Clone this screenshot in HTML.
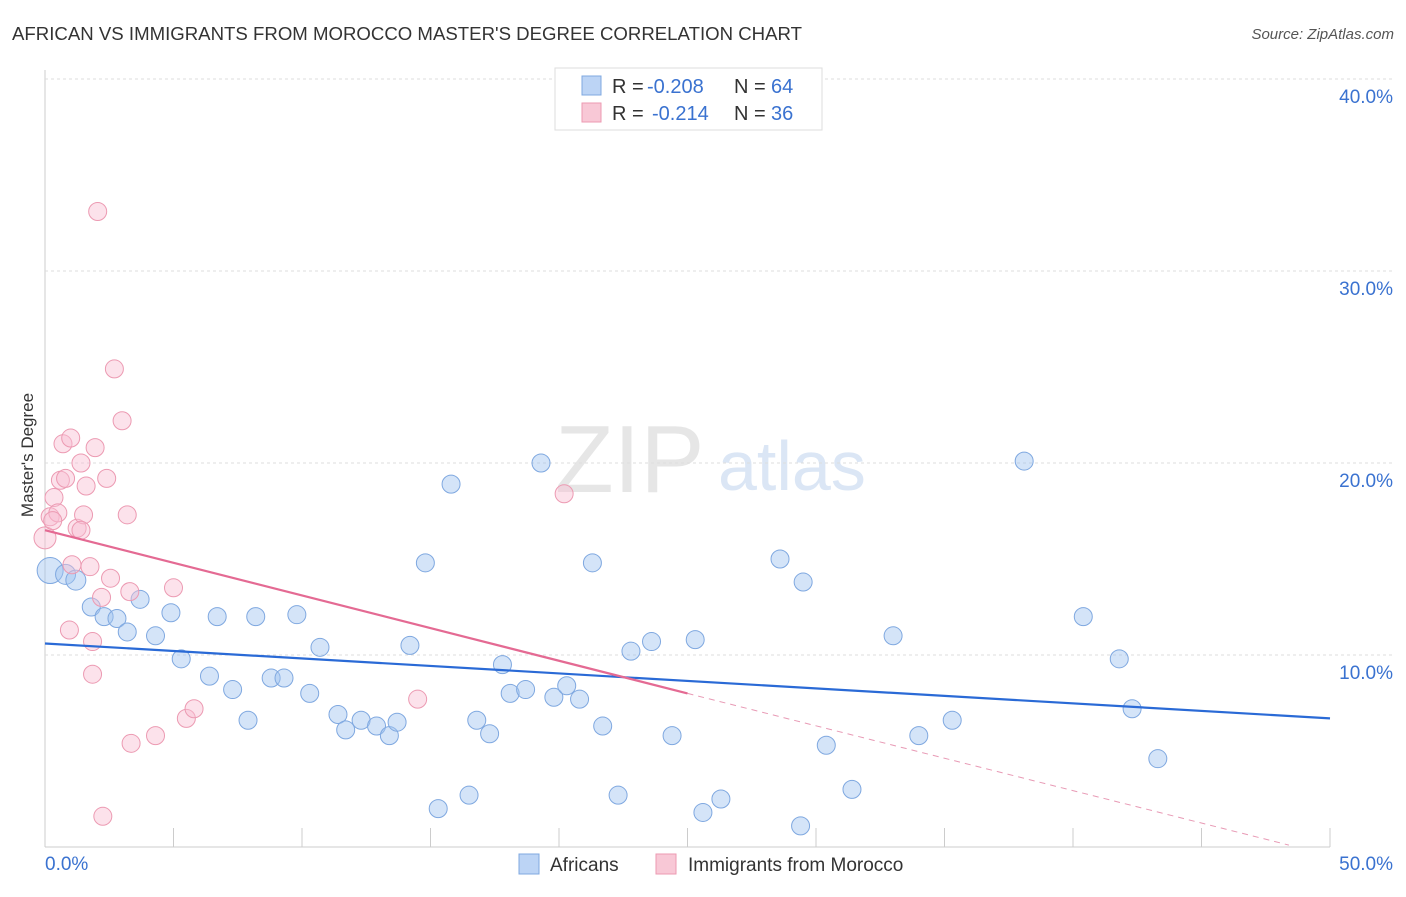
<!DOCTYPE html>
<html><head><meta charset="utf-8"><style>
body{margin:0;background:#fff;font-family:"Liberation Sans",sans-serif}
svg text{font-family:"Liberation Sans",sans-serif}
</style></head><body>
<svg id="c" width="1406" height="892">
<text x="12" y="40" font-size="18" fill="#333" textLength="790" lengthAdjust="spacingAndGlyphs">AFRICAN VS IMMIGRANTS FROM MOROCCO MASTER'S DEGREE CORRELATION CHART</text>
<text x="1394" y="39" font-size="15" fill="#555" text-anchor="end" font-style="italic">Source: ZipAtlas.com</text>
<text x="555" y="492" font-size="96" fill="#e6e6e6" font-family="Liberation Serif">ZIP</text>
<text x="718" y="490" font-size="70" fill="#dbe6f5">atlas</text>
<text transform="translate(33,455) rotate(-90)" font-size="17" fill="#333" text-anchor="middle">Master's Degree</text>
<g id="grid"></g><g id="pts"></g><g id="lines"></g>
<g>
<rect x="555" y="68" width="267" height="62" fill="#fff" stroke="#ddd"/>
<rect x="582" y="76" width="19" height="19" fill="#bcd4f5" stroke="#7fa8e0"/>
<rect x="582" y="103" width="19" height="19" fill="#f8c8d6" stroke="#ec9ab2"/>
<text x="612" y="93" font-size="20" fill="#333">R =</text>
<text x="647" y="93" font-size="20" fill="#3a72d0">-0.208</text>
<text x="734" y="93" font-size="20" fill="#333">N =</text>
<text x="771" y="93" font-size="20" fill="#3a72d0">64</text>
<text x="612" y="120" font-size="20" fill="#333">R =</text>
<text x="652" y="120" font-size="20" fill="#3a72d0">-0.214</text>
<text x="734" y="120" font-size="20" fill="#333">N =</text>
<text x="771" y="120" font-size="20" fill="#3a72d0">36</text>
</g>
<g>
<rect x="519" y="854" width="20" height="20" fill="#bcd4f5" stroke="#7fa8e0"/>
<text x="550" y="871" font-size="19" fill="#333">Africans</text>
<rect x="656" y="854" width="20" height="20" fill="#f8c8d6" stroke="#ec9ab2"/>
<text x="688" y="871" font-size="19" fill="#333">Immigrants from Morocco</text>
</g>
</svg>
<script>
const yTicks=[10,20,30,40];
const xTickLabels=["0.0%","50.0%"];
const blueX=[0.2,0.8,1.2,1.8,2.3,2.8,3.2,3.7,4.3,4.9,5.3,6.4,6.7,7.3,7.9,8.2,8.8,9.3,9.8,10.3,10.7,11.4,11.7,12.3,12.9,13.4,13.7,14.2,14.8,15.3,15.8,16.5,16.8,17.3,17.8,18.1,18.7,19.3,19.8,20.3,20.8,21.3,21.7,22.3,22.8,23.6,24.4,25.3,25.6,26.3,28.6,29.4,29.5,30.4,31.4,33.0,34.0,35.3,38.1,40.4,41.8,42.3,43.3];
const blueY=[14.4,14.2,13.9,12.5,12.0,11.9,11.2,12.9,11.0,12.2,9.8,8.9,12.0,8.2,6.6,12.0,8.8,8.8,12.1,8.0,10.4,6.9,6.1,6.6,6.3,5.8,6.5,10.5,14.8,2.0,18.9,2.7,6.6,5.9,9.5,8.0,8.2,20.0,7.8,8.4,7.7,14.8,6.3,2.7,10.2,10.7,5.8,10.8,1.8,2.5,15.0,1.1,13.8,5.3,3.0,11.0,5.8,6.6,20.1,12.0,9.8,7.2,4.6];
const blueR=[13,10,10,9,9,9,9,9,9,9,9,9,9,9,9,9,9,9,9,9,9,9,9,9,9,9,9,9,9,9,9,9,9,9,9,9,9,9,9,9,9,9,9,9,9,9,9,9,9,9,9,9,9,9,9,9,9,9,9,9,9,9,9];
const pinkX=[0.0,0.2,0.35,0.5,0.6,0.7,0.8,1.0,0.95,1.05,1.25,1.4,1.5,1.6,1.75,1.85,1.85,1.95,2.05,2.2,2.25,2.4,2.55,2.7,3.0,3.2,3.3,3.35,4.3,5.0,5.5,5.8,14.5,20.2,1.4,0.3];
const pinkY=[16.1,17.2,18.2,17.4,19.1,21.0,19.2,21.3,11.3,14.7,16.6,20.0,17.3,18.8,14.6,10.7,9.0,20.8,33.1,13.0,1.6,19.2,14.0,24.9,22.2,17.3,13.3,5.4,5.8,13.5,6.7,7.2,7.7,18.4,16.5,17.0];
const pinkR=[11,9,9,9,9,9,9,9,9,9,9,9,9,9,9,9,9,9,9,9,9,9,9,9,9,9,9,9,9,9,9,9,9,9,9,9];
const blueTrend=[[0,10.6],[50,6.7]];
const pinkTrend=[[0,16.5],[25,8.0]];
const pinkDash=[[25,8.0],[48.4,0.1]];
const X=v=>45+v*25.7, Y=v=>847-v*19.2;
const ns="http://www.w3.org/2000/svg";
function mk(t,a,p){const e=document.createElementNS(ns,t);for(const k in a)e.setAttribute(k,a[k]);p.appendChild(e);return e;}
const g=document.getElementById('grid');
mk('line',{x1:45,y1:70,x2:45,y2:847,stroke:'#ccc'},g);
mk('line',{x1:45,y1:847,x2:1330,y2:847,stroke:'#ccc'},g);
yTicks.forEach((t,i)=>{const l=mk('line',{x1:45,y1:Y(t),x2:1393,y2:Y(t),stroke:'#ddd','stroke-dasharray':'3,3'},g);

const tx=mk('text',{x:1393,y:Y(t)+24,'font-size':19,fill:'#3a72d0','text-anchor':'end'},g);tx.textContent=t.toFixed(1)+'%';
});
for(let i=1;i<=10;i++){const l=mk('line',{x1:X(i*5),y1:828,x2:X(i*5),y2:847,stroke:'#ccc'},g);}
[[0,'start',45],[50,'end',1393]].forEach((d,i)=>{const t=mk('text',{x:d[2],y:870,'font-size':19,fill:'#3a72d0','text-anchor':d[1]},g);t.textContent=xTickLabels[i];
});
const p=document.getElementById('pts');
blueX.forEach((x,i)=>{const c=mk('circle',{cx:X(x),cy:Y(blueY[i]),r:blueR[i],fill:'rgba(160,195,240,0.45)',stroke:'#7fa8e0','stroke-width':1},p);
});
pinkX.forEach((x,i)=>{const c=mk('circle',{cx:X(x),cy:Y(pinkY[i]),r:pinkR[i],fill:'rgba(248,190,210,0.45)',stroke:'#ec9ab2','stroke-width':1},p);
});
const L=document.getElementById('lines');
const b=mk('line',{x1:X(blueTrend[0][0]),y1:Y(blueTrend[0][1]),x2:X(blueTrend[1][0]),y2:Y(blueTrend[1][1]),stroke:'#2a6ad6','stroke-width':2.2},L);

const k=mk('line',{x1:X(pinkTrend[0][0]),y1:Y(pinkTrend[0][1]),x2:X(pinkTrend[1][0]),y2:Y(pinkTrend[1][1]),stroke:'#e46a93','stroke-width':2.2},L);

const d=mk('line',{x1:X(pinkDash[0][0]),y1:Y(pinkDash[0][1]),x2:X(pinkDash[1][0]),y2:Y(pinkDash[1][1]),stroke:'#e89ab5','stroke-width':1,'stroke-dasharray':'6,5'},L);

</script>
</body></html>
